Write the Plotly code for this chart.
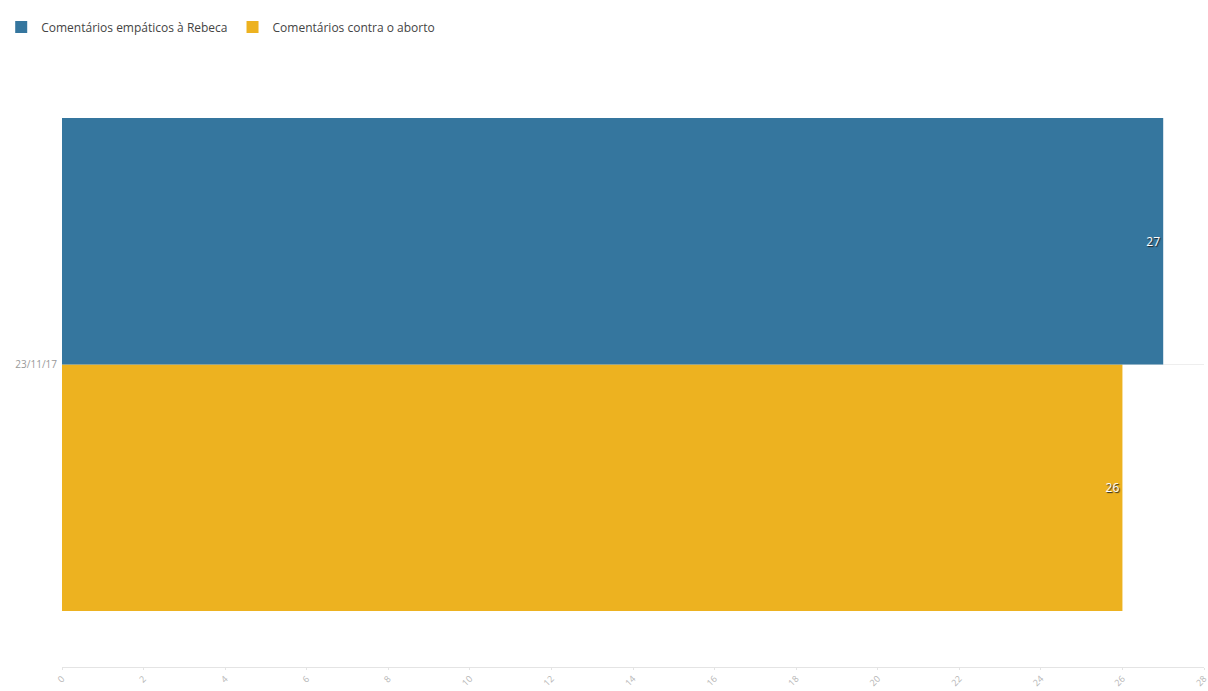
import plotly.graph_objects as go

categories = ["23/11/17"]
series_names = ["Comentários empáticos à Rebeca", "Comentários contra o aborto"]
empaticos = [27]
contra = [26]
x_ticks = list(range(0, 30, 2))

blue = "#35769E"
yellow = "#EDB220"

fig = go.Figure()
fig.add_trace(go.Bar(
    y=categories, x=contra, name=series_names[1], orientation="h",
    marker=dict(color=yellow, line=dict(width=0)),
    text=contra, textposition="inside", insidetextanchor="end",
    textfont=dict(color="white", size=12, family="Open Sans", shadow="1px 1px 1px #222"),
))
fig.add_trace(go.Bar(
    y=categories, x=empaticos, name=series_names[0], orientation="h",
    marker=dict(color=blue, line=dict(width=0)),
    text=empaticos, textposition="inside", insidetextanchor="end",
    textfont=dict(color="white", size=12, family="Open Sans", shadow="1px 1px 1px #222"),
))

fig.update_layout(
    width=1208, height=691,
    margin=dict(l=62, r=4, t=62, b=24, autoexpand=False),
    paper_bgcolor="white", plot_bgcolor="white",
    barmode="group", bargap=0.185, bargroupgap=0,
    font=dict(family="Open Sans", color="#555"),
    showlegend=True,
    legend=dict(orientation="h", x=0.001, xref="container", y=0.961, yref="container",
                yanchor="middle", xanchor="left", traceorder="reversed",
                font=dict(size=12, color="#444"), itemsizing="constant"),
    xaxis=dict(range=[0, 28], tickvals=x_ticks, tickangle=-45,
               tickfont=dict(size=9, color="#b5b5b5"), showgrid=False, zeroline=False,
               showline=True, linecolor="#e4e4e4", ticks="outside", ticklen=2,
               tickcolor="#e4e4e4", automargin=False, ticklabeloverflow="allow"),
    yaxis=dict(showgrid=True, gridcolor="#eeeeee", tickfont=dict(size=10, color="#999"),
               zeroline=False, showline=False, automargin=False, ticks="",
               ticklabelstandoff=4),
)

fig.write_html("out.html")
